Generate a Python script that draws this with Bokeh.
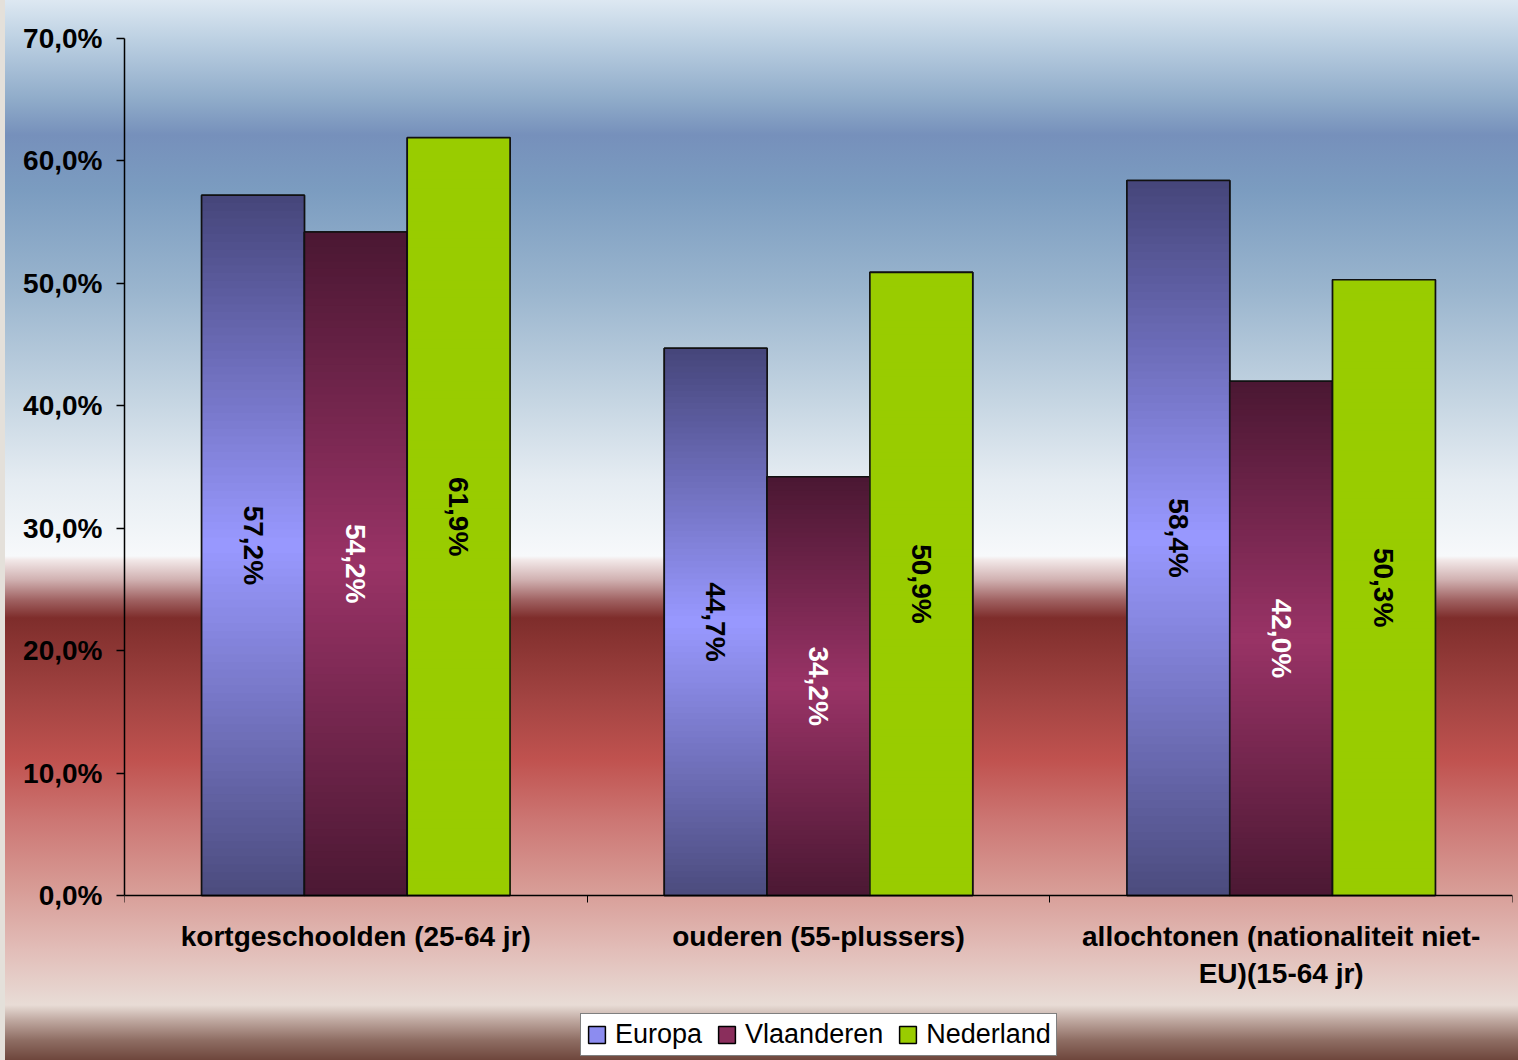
import numpy as np
from bokeh.plotting import figure
from bokeh.models import FixedTicker, Range1d, Legend, LegendItem, ColumnDataSource
from bokeh.core.properties import value
from bokeh.embed import file_html
from bokeh.resources import INLINE

# ---- data ----
categories = ["kortgeschoolden (25-64 jr)",
              "ouderen (55-plussers)",
              "allochtonen (nationaliteit niet-\nEU)(15-64 jr)"]
series = ["Europa", "Vlaanderen", "Nederland"]
europa = [57.2, 44.7, 58.4]
vlaanderen = [54.2, 34.2, 42.0]
nederland = [61.9, 50.9, 50.3]
y_ticks = [0, 10, 20, 30, 40, 50, 60, 70]
y_tick_labels = ["0,0%", "10,0%", "20,0%", "30,0%", "40,0%", "50,0%", "60,0%", "70,0%"]
y_max = 70

FONT = "Liberation Sans"
BOLD_SIZE = "28px"

# ---- layout (pixels) ----
W, H = 1518, 1060
TOP, LEFT, RIGHT = 38, 124, 6
AXIS_Y = 895                      # pixel row of the 0 % line
plot_px = AXIS_Y - TOP            # pixels for 0..70 %
y_lo = -y_max * (H - AXIS_Y) / plot_px   # extend frame below the x-axis

# ---- styling ----
styles = {
    "Europa": ("#45457a", "#9999ff", "#4b4b7d"),
    "Vlaanderen": ("#4a1732", "#993366", "#4b1833"),
    "Nederland": ("#99cc00", "#99cc00", "#99cc00"),
}
label_colors = {"Europa": "black", "Vlaanderen": "white", "Nederland": "black"}
legend_colors = {"Europa": "#8c8cf0", "Vlaanderen": "#8a2e5c", "Nederland": "#99cc00"}

def hex2rgb(h):
    h = h.lstrip("#")
    return np.array([int(h[i:i + 2], 16) for i in (0, 2, 4)], dtype=float)

def mix(c1, c2, t):
    a, b = hex2rgb(c1), hex2rgb(c2)
    c = a + (b - a) * t
    return "#%02x%02x%02x" % tuple(int(round(x)) for x in c)

bg = ("linear-gradient(to right, #e4e0da 0px, #e4e0da 5px, rgba(0,0,0,0) 5px), "
      "linear-gradient(to bottom, #dde8f2 0px, #bcd0e2 40px, #8fabc9 100px, #7690bb 135px, "
      "#7b9cc0 190px, #9ab5ce 290px, #c5d5e2 400px, #e5ecf2 480px, #f7f9fb 556px, "
      "#f2e8e8 560px, #d0b0b0 580px, #a06262 600px, #7e2d2b 618px, #a34442 700px, "
      "#c0524f 760px, #cc7673 820px, #d69791 880px, #e2bdb8 950px, #e8dcd6 1005px, "
      "#c0a9a1 1020px, #8f6e64 1040px, #6e463c 1060px)")

p = figure(width=W, height=H, output_backend="svg", toolbar_location=None,
           x_range=Range1d(0, 3), y_range=Range1d(y_lo, y_max),
           min_border_left=LEFT, min_border_right=RIGHT, min_border_top=TOP,
           min_border_bottom=0)
p.styles = {"background": bg}
p.border_fill_color = None
p.background_fill_color = None
p.outline_line_color = None
p.xgrid.visible = False
p.ygrid.visible = False

values = {"Europa": europa, "Vlaanderen": vlaanderen, "Nederland": nederland}
gap = 1.0 / 6.0
bw = (1.0 - 2 * gap) / 3.0
N = 90

legend_renderers = {}
for si, s in enumerate(series):
    top_c, mid_c, bot_c = styles[s]
    vals = values[s]
    lefts = [gi + gap + si * bw for gi in range(len(vals))]
    osrc = ColumnDataSource(dict(left=lefts, right=[l + bw for l in lefts],
                                 bottom=[0] * len(vals), top=vals,
                                 xc=[l + bw / 2 for l in lefts],
                                 yc=[v / 2 for v in vals],
                                 txt=[("%.1f" % v).replace(".", ",") + "%" for v in vals]))
    # base bar (also provides the legend swatch)
    legend_renderers[s] = p.quad(left="left", right="right", bottom="bottom", top="top",
                                 source=osrc, fill_color=legend_colors[s],
                                 line_color="black", line_width=1.5)
    # gradient slices
    L, R, B, T, C = [], [], [], [], []
    for gi, v in enumerate(vals):
        left = lefts[gi]
        right = left + bw
        edges = np.linspace(0, v, N + 1)
        for k in range(N, 0, -1):
            t = (edges[k - 1] + edges[k]) / 2 / v
            sdist = 1 - abs(2 * t - 1)
            col = mix(top_c, mid_c, sdist) if t > 0.5 else mix(bot_c, mid_c, sdist)
            L.append(left); R.append(right); B.append(0); T.append(edges[k]); C.append(col)
    src = ColumnDataSource(dict(left=L, right=R, bottom=B, top=T, color=C))
    p.quad(left="left", right="right", bottom="bottom", top="top", source=src,
           fill_color="color", line_color=None)
    # outline
    p.quad(left="left", right="right", bottom="bottom", top="top", source=osrc,
           fill_color=None, line_color="#111111", line_width=1.6)
    p.text(x="xc", y="yc", text="txt", source=osrc, angle=-np.pi / 2,
           text_align="center", text_baseline="middle",
           text_font=value(FONT), text_font_style="bold", text_font_size=BOLD_SIZE,
           text_color=label_colors[s])

# axes
xa = p.xaxis[0]
xa.fixed_location = 0
xa.ticker = FixedTicker(ticks=[0.5, 1.5, 2.5], minor_ticks=[0, 1, 2, 3])
xa.major_label_overrides = {0.5: categories[0], 1.5: categories[1], 2.5: categories[2]}
xa.major_tick_out = 0
xa.major_tick_in = 0
xa.minor_tick_out = 7
xa.minor_tick_in = 0
xa.minor_tick_line_color = "black"
xa.axis_line_color = "black"
xa.axis_line_width = 1.5
xa.major_label_standoff = 18
xa.major_label_text_font = FONT
xa.major_label_text_font_style = "bold"
xa.major_label_text_font_size = BOLD_SIZE
xa.major_label_text_color = "black"

ya = p.yaxis[0]
ya.bounds = (0, y_max)
ya.ticker = FixedTicker(ticks=y_ticks)
ya.major_label_overrides = {t: l for t, l in zip(y_ticks, y_tick_labels)}
ya.major_tick_out = 8
ya.major_tick_in = 0
ya.minor_tick_out = 0
ya.minor_tick_in = 0
ya.major_tick_line_color = "black"
ya.major_tick_line_width = 1.3
ya.axis_line_color = "black"
ya.axis_line_width = 1.5
ya.major_label_standoff = 14
ya.major_label_text_font = FONT
ya.major_label_text_font_style = "bold"
ya.major_label_text_font_size = BOLD_SIZE
ya.major_label_text_color = "black"

# legend (inside the extended frame, below the category labels)
items = [LegendItem(label=s, renderers=[legend_renderers[s]]) for s in series]
legend = Legend(items=items, orientation="horizontal", location=(456, 4))
legend.background_fill_color = "white"
legend.background_fill_alpha = 1.0
legend.border_line_color = "black"
legend.border_line_width = 1.5
legend.label_text_font = FONT
legend.label_text_font_size = "27px"
legend.label_text_color = "black"
legend.glyph_width = 21
legend.glyph_height = 21
legend.label_standoff = 8
legend.spacing = 14
legend.padding = 5
legend.margin = 0
p.add_layout(legend, "center")

open("out.html", "w").write(file_html(p, INLINE))
